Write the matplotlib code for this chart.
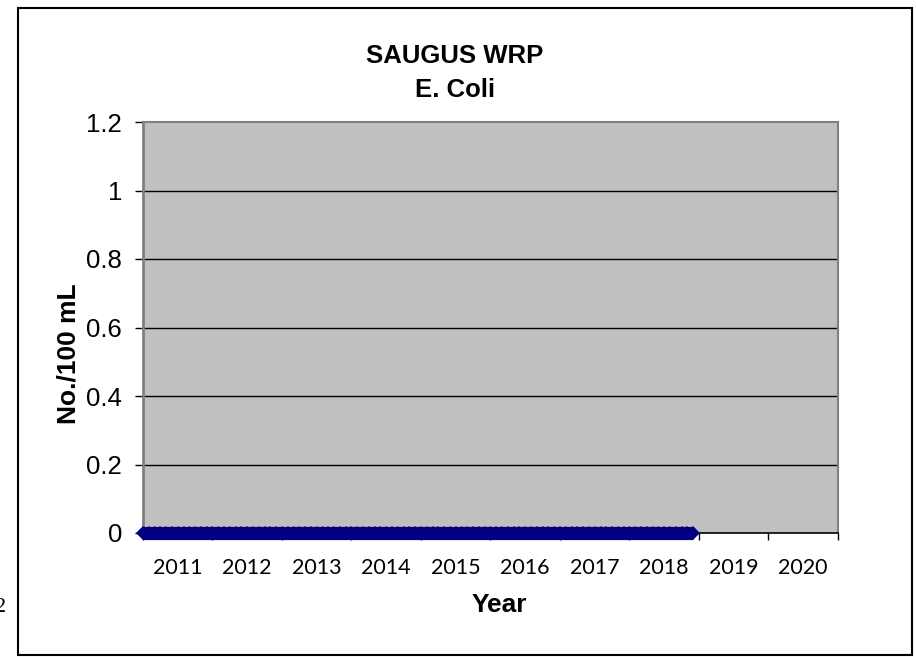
import numpy as np
import matplotlib
matplotlib.use("Agg")
from matplotlib import pyplot as plt
from matplotlib.patches import Rectangle

# data: monthly E. coli results, all at zero
sample_years = [2011, 2012, 2013, 2014, 2015, 2016, 2017, 2018]
sample_months = [1, 2, 3, 4, 5, 6, 7, 8, 9, 10, 11, 12]
ecoli_2011 = [0, 0, 0, 0, 0, 0, 0, 0, 0, 0, 0, 0]
ecoli_2012 = [0, 0, 0, 0, 0, 0, 0, 0, 0, 0, 0, 0]
ecoli_2013 = [0, 0, 0, 0, 0, 0, 0, 0, 0, 0, 0, 0]
ecoli_2014 = [0, 0, 0, 0, 0, 0, 0, 0, 0, 0, 0, 0]
ecoli_2015 = [0, 0, 0, 0, 0, 0, 0, 0, 0, 0, 0, 0]
ecoli_2016 = [0, 0, 0, 0, 0, 0, 0, 0, 0, 0, 0, 0]
ecoli_2017 = [0, 0, 0, 0, 0, 0, 0, 0, 0, 0, 0, 0]
ecoli_2018 = [0, 0, 0, 0, 0, 0, 0, 0, 0, 0, 0, 0]
ecoli = [ecoli_2011, ecoli_2012, ecoli_2013, ecoli_2014,
         ecoli_2015, ecoli_2016, ecoli_2017, ecoli_2018]

year_labels = ['2011', '2012', '2013', '2014', '2015',
               '2016', '2017', '2018', '2019', '2020']
y_ticks = [0, 0.2, 0.4, 0.6, 0.8, 1, 1.2]
y_ticklabels = ['0', '0.2', '0.4', '0.6', '0.8', '1', '1.2']

#################################################

x = []
y = []
for yr, vals in zip(sample_years, ecoli):
    for m, v in zip(sample_months, vals):
        x.append(yr + (m - 1) / 12)
        y.append(v)

W, H = 916, 657
fig = plt.figure(figsize=(W / 100, H / 100), dpi=100)
fig.patch.set_facecolor('white')

# outer chart border
fig.patches.append(Rectangle((18 / W, 1 - 655 / H), (912 - 18) / W, (655 - 8) / H,
                             transform=fig.transFigure, fill=False,
                             edgecolor='black', lw=1.5))
# stray clipped digit on the left edge (cut off in the original too)
fig.text(-5 / W, 1 - 607 / H, '2', fontsize=16, family='Liberation Serif',
         ha='left', va='center')

ax = fig.add_axes([143 / W, 1 - 533 / H, (838 - 143) / W, (533 - 122) / H])
ax.set_facecolor('#C0C0C0')
ax.set_xlim(2011, 2021)
ax.set_ylim(0, 1.2)

for gy in y_ticks[1:-1]:
    ax.axhline(gy, color='black', lw=1, zorder=1)

ax.plot(x, y, color='#000080', lw=9.5, marker='D', markersize=7.3,
        markeredgewidth=0, solid_capstyle='butt',
        clip_on=False, zorder=5)

for side in ['top', 'right']:
    ax.spines[side].set_color('#808080')
    ax.spines[side].set_linewidth(1.5)
ax.spines['left'].set_color('#808080')
ax.spines['left'].set_linewidth(2)
ax.spines['bottom'].set_color('black')
ax.spines['bottom'].set_linewidth(1.2)

ax.set_yticks(y_ticks)
ax.set_yticklabels(y_ticklabels, family='Liberation Sans', fontsize=18.5)
ax.tick_params(axis='y', length=6, width=1, color='black', pad=9)

ax.set_xticks(np.arange(2011, 2022))
ax.set_xticklabels([])
ax.tick_params(axis='x', which='major', length=5, width=1, color='black')
ax.set_xticks(np.arange(2011, 2021) + 0.5, minor=True)
ax.set_xticklabels(year_labels, minor=True, family=['Lato', 'DejaVu Sans'], fontsize=15.5)
ax.tick_params(axis='x', which='minor', length=0, pad=18)

fig.text(455 / W, 1 - 56 / H, 'SAUGUS WRP', ha='center', va='center',
         family='Liberation Sans', weight='bold', fontsize=18.5)
fig.text(455 / W, 1 - 90 / H, 'E. Coli', ha='center', va='center',
         family='Liberation Sans', weight='bold', fontsize=18.5)
fig.text(499 / W, 1 - 605 / H, 'Year', ha='center', va='center',
         family='Liberation Sans', weight='bold', fontsize=19)
fig.text(68 / W, 1 - 354 / H, 'No./100 mL', ha='center', va='center', rotation=90,
         family='Liberation Sans', weight='bold', fontsize=19)

fig.savefig('out.png', dpi=100)
